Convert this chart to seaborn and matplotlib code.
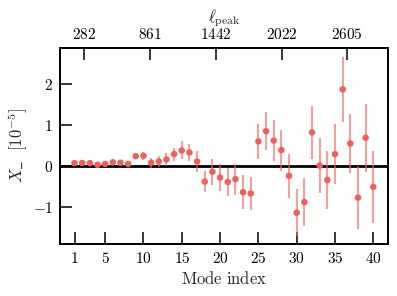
import matplotlib
matplotlib.use("Agg")
import matplotlib.pyplot as plt
import numpy as np
import pandas as pd
import seaborn as sns

# mode index, measured X_ amplitude and 1-sigma error (units of 1e-5)
modes = list(range(1, 41))
x_minus = [0.06, 0.065, 0.06, 0.02, 0.04, 0.08, 0.07, 0.04, 0.23, 0.24,
           0.07, 0.10, 0.15, 0.28, 0.37, 0.32, 0.10, -0.39, -0.15, -0.29,
           -0.40, -0.33, -0.65, -0.68, 0.59, 0.84, 0.61, 0.38, -0.25, -1.15,
           -0.89, 0.81, 0.00, -0.35, 0.28, 1.86, 0.54, -0.78, 0.68, -0.52]
x_err = [0.02, 0.02, 0.02, 0.03, 0.03, 0.04, 0.05, 0.05, 0.08, 0.10,
         0.12, 0.14, 0.15, 0.16, 0.22, 0.20, 0.26, 0.25, 0.32, 0.33,
         0.34, 0.38, 0.41, 0.40, 0.42, 0.46, 0.50, 0.50, 0.53, 0.57,
         0.58, 0.64, 0.68, 0.71, 0.73, 0.79, 0.73, 0.76, 0.83, 0.87]

# top axis: l_peak labels at mode-index positions
lpeak_pos = [2.25, 10.86, 19.5, 28.1, 36.6]
lpeak_labels = ["282", "861", "1442", "2022", "2605"]
mode_ticks = [1, 5, 10, 15, 20, 25, 30, 35, 40]

df = pd.DataFrame({"mode": modes, "X": x_minus, "err": x_err})

sns.set_theme(style="ticks")
plt.rcParams.update({
    "font.family": "serif",
    "mathtext.fontset": "cm",
    "axes.formatter.use_mathtext": True,
    "axes.linewidth": 1.3,
    "axes.edgecolor": "black",
})

color = "#f0605a"

fig = plt.figure(figsize=(3.97, 2.96), dpi=100)
ax = fig.add_axes([0.151, 0.176, 0.826, 0.662])

ax.axhline(0, color="black", lw=2.0, zorder=1)
ax.errorbar(df["mode"], df["X"], yerr=df["err"], fmt="none",
            ecolor=color, alpha=0.6, elinewidth=1.5, capsize=0, zorder=2)
sns.scatterplot(data=df, x="mode", y="X", color=color, s=22,
                edgecolor="none", ax=ax, zorder=3, legend=False)

ax.set_xlim(-0.9, 41.9)
ax.set_ylim(-1.91, 2.87)
ax.set_xticks(mode_ticks)
ax.set_xticklabels([f"${m}$" for m in mode_ticks])
ax.set_yticks([-1, 0, 1, 2])
ax.set_yticklabels(["$-1$", "$0$", "$1$", "$2$"])
ax.tick_params(direction="in", length=8.5, width=1.1, labelsize=11,
               colors="black", pad=5)
ax.set_xlabel(r"$\mathrm{Mode\ index}$", fontsize=12, labelpad=4)
ax.set_ylabel(r"$X\_\ \ [10^{-5}]$", fontsize=12, labelpad=2)

top = ax.twiny()
top.set_xlim(ax.get_xlim())
top.set_xticks(lpeak_pos)
top.set_xticklabels([f"${s}$" for s in lpeak_labels])
top.tick_params(direction="in", length=8.5, width=1.1, labelsize=11,
                colors="black", pad=4)
top.set_xlabel(r"$\ell_{\mathrm{peak}}$", fontsize=12, labelpad=4)

for a in (ax, top):
    for s in a.spines.values():
        s.set_color("black")
        s.set_linewidth(1.3)

fig.savefig("out.png", dpi=100)
